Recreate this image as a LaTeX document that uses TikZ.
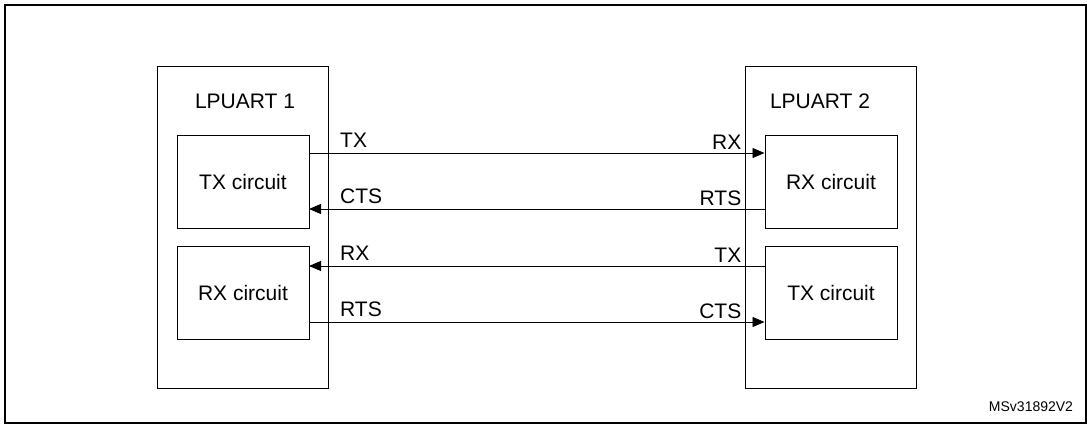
\documentclass[tikz,border=0pt]{standalone}
\usepackage{fontspec}
\setmainfont{Liberation Sans}
\usetikzlibrary{positioning,arrows.meta}

\begin{document}
\begin{tikzpicture}[
  x=1pt, y=-1pt,
  font=\fontsize{21}{24}\selectfont,
  unit/.style={draw, line width=1pt, minimum width=171pt, minimum height=322pt, anchor=north west},
  circ/.style={draw, line width=1pt, minimum width=132pt, minimum height=93pt},
  sig/.style={-{Triangle[length=12pt,width=10pt]}, line width=0.9pt},
  lbl/.style={inner sep=3pt}
]
\useasboundingbox (0,0) rectangle (1087,424);
\draw[line width=1.5pt] (5,5) rectangle (1086,423);

% LPUART units
\node[unit] (uart1) at (157,66) {};
\node[unit] (uart2) at (745,66) {};
\node at (245,101) {LPUART 1};
\node at (820,101) {LPUART 2};

% Circuits
\node[circ] (tx1) at (243,181.5) {TX circuit};
\node[circ] (rx1) at (243,293) {RX circuit};
\node[circ] (rx2) at (831,181.5) {RX circuit};
\node[circ] (tx2) at (831,293) {TX circuit};

% Signals
\coordinate (a) at (309,153);
\coordinate (b) at (309,209);
\coordinate (c) at (309,266);
\coordinate (d) at (309,322);
\draw[sig] (a) -- (a -| rx2.west);
\draw[sig] (b -| rx2.west) -- (b);
\draw[sig] (c -| tx2.west) -- (c);
\draw[sig] (d) -- (d -| tx2.west);

\node[lbl, above right=2pt and 28pt of a] {TX};
\node[lbl, above right=2pt and 28pt of b] {CTS};
\node[lbl, above right=2pt and 28pt of c] {RX};
\node[lbl, above right=2pt and 28pt of d] {RTS};
\node[lbl, above left=0pt and 20pt of {a -| rx2.west}] {RX};
\node[lbl, above left=0pt and 20pt of {b -| rx2.west}] {RTS};
\node[lbl, above left=0pt and 20pt of {c -| tx2.west}] {TX};
\node[lbl, above left=0pt and 20pt of {d -| tx2.west}] {CTS};

\node[font=\fontsize{14}{16}\selectfont] (ref) at (1031,407) {MSv31892V2};
\end{tikzpicture}
\end{document}
